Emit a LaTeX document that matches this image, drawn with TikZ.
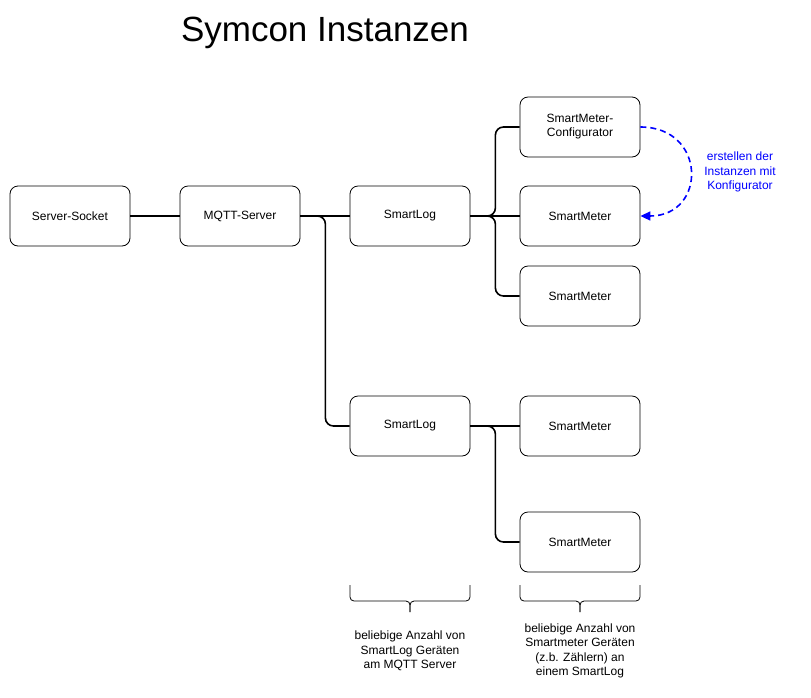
\documentclass[tikz,border=0pt]{standalone}
\usepackage{fontspec}
\setmainfont{Liberation Sans}
\usepackage{xcolor}
\usepackage{tikz}
\usetikzlibrary{arrows.meta}
\definecolor{hintblue}{HTML}{0000FF}
\tikzset{devbox/.style={draw,rounded corners=8pt,line width=0.8pt,minimum width=120pt,minimum height=60pt,align=center,font=\fontsize{12}{14}\selectfont},
  wire/.style={line width=1.6pt,rounded corners=8pt},
  bracket/.style={line width=0.8pt,rounded corners=4pt},
  notetext/.style={align=center,font=\fontsize{12}{14.5}\selectfont}}

\begin{document}
\begin{tikzpicture}[x=1pt,y=-1pt,>=Latex]
    \useasboundingbox (0,0) rectangle (811,697);
    \node[font=\fontsize{35}{40}\selectfont] (title) at (325,33) {Symcon Instanzen};

    \node[devbox] (socket) at (70,216) {Server-Socket};
    \node[devbox] (mqtt) at (240,216) {MQTT-Server};
    \node[devbox] (logA) at (410,216) {SmartLog};
    \node[devbox] (logB) at (410,426) {SmartLog};
    \node[devbox] (config) at (580,127) {SmartMeter-\\Configurator};

    \foreach \idx/\ypos in {1/216,2/296,3/426,4/542} {
      \node[devbox] (meter\idx) at (580,\ypos) {SmartMeter};
    }

    \draw[wire] (socket.east) -- (mqtt.west);
    \draw[wire] (mqtt.east) -- (logA.west);
    \draw[wire] (mqtt.east) -- ++(25,0) |- (logB.west);

    \draw[wire] (logA.east) -- (meter1.west);
    \draw[wire] (logB.east) -- (meter3.west);
    \foreach \target in {config,meter2} {
      \draw[wire] (logA.east) -- ++(25,0) |- (\target.west);
    }
    \draw[wire] (logB.east) -- ++(25,0) |- (meter4.west);

    \draw[hintblue,line width=1.6pt,dash pattern=on 6pt off 4pt,-{Triangle[length=10pt,width=9pt]}] (config.east) .. controls (707,127) and (707,216) .. (meter1.east);
    \node[notetext,text=hintblue] (hint) at (740,172) {erstellen der\\Instanzen mit\\Konfigurator};

    % Klammern unter den Spalten
    \coordinate (tipA) at (410,612);
    \coordinate (tipB) at (580,612);
    \draw[bracket] (350,585) |- (410,601) -- (tipA);
    \draw[bracket] (tipA) -- (410,601) -| (470,585);
    \draw[bracket] (520,585) |- (580,601) -- (tipB);
    \draw[bracket] (tipB) -- (580,601) -| (640,585);

    \node[notetext] (noteA) at (410,651) {beliebige Anzahl von\\SmartLog Geräten\\am MQTT Server};
    \node[notetext] (noteB) at (580,651) {beliebige Anzahl von\\Smartmeter Geräten\\(z.b. Zählern) an\\einem SmartLog};
  \end{tikzpicture}
\end{document}
